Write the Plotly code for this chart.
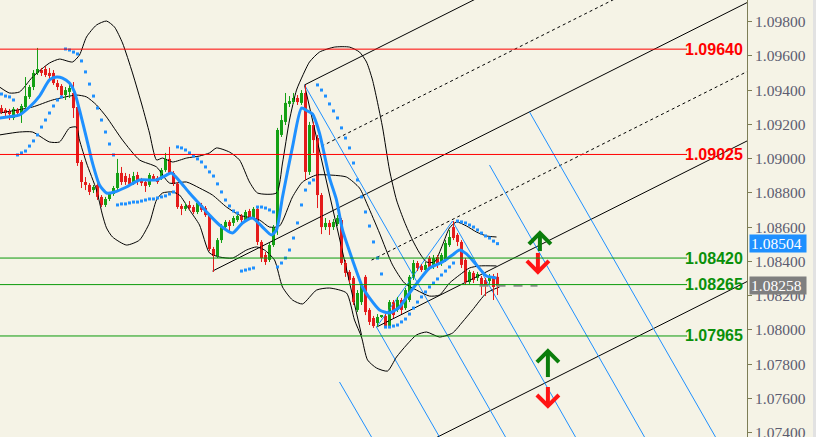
import plotly.graph_objects as go

# ---------------- data ----------------
opens = [
 1.09296, 1.09285, 1.09279, 1.09238, 1.09285, 1.09267, 1.09302, 1.09361, 1.09419, 1.09501,
 1.09518, 1.09524, 1.09501, 1.09501, 1.09442, 1.09425, 1.09372, 1.09390, 1.09384, 1.09302,
 1.08981, 1.08864, 1.08847, 1.08817, 1.08847, 1.08777, 1.08730, 1.08765, 1.08794, 1.08829,
 1.08917, 1.08899, 1.08888, 1.08858, 1.08905, 1.08876, 1.08864, 1.08847, 1.08899, 1.08888,
 1.08888, 1.08934, 1.08999, 1.08917, 1.08853, 1.08724, 1.08707, 1.08730, 1.08718, 1.08689,
 1.08730, 1.08712, 1.08671, 1.08473, 1.08432, 1.08525, 1.08601, 1.08631, 1.08625, 1.08642,
 1.08666, 1.08642, 1.08695, 1.08654, 1.08707, 1.08514, 1.08438, 1.08409, 1.08496, 1.08601,
 1.09139, 1.09215, 1.09320, 1.09331, 1.09355, 1.09326, 1.09384, 1.08923, 1.09197, 1.09121,
 1.08788, 1.08601, 1.08625, 1.08601, 1.08619, 1.08642, 1.08391, 1.08339, 1.08304, 1.08117,
 1.08163, 1.08310, 1.08117, 1.08070, 1.08041, 1.08076, 1.08082, 1.08023, 1.08163, 1.08117,
 1.08175, 1.08128, 1.08175, 1.08304, 1.08391, 1.08374, 1.08350, 1.08420, 1.08368, 1.08426,
 1.08391, 1.08409, 1.08496, 1.08601, 1.08555, 1.08514, 1.08409, 1.08280, 1.08333, 1.08304,
 1.08304, 1.08292, 1.08286, 1.08315, 1.08310]
highs = [
 1.09314, 1.09296, 1.09291, 1.09302, 1.09296, 1.09320, 1.09477, 1.09431, 1.09518, 1.09647,
 1.09530, 1.09542, 1.09530, 1.09518, 1.09460, 1.09436, 1.09419, 1.09448, 1.09448, 1.09314,
 1.08993, 1.08893, 1.08858, 1.08847, 1.08858, 1.08788, 1.08777, 1.08806, 1.08841, 1.08999,
 1.08952, 1.08917, 1.08911, 1.08923, 1.08923, 1.08888, 1.08876, 1.08917, 1.08911, 1.08899,
 1.08946, 1.09034, 1.09069, 1.08928, 1.08864, 1.08736, 1.08742, 1.08753, 1.08730, 1.08759,
 1.08742, 1.08724, 1.08683, 1.08485, 1.08537, 1.08619, 1.08642, 1.08642, 1.08666, 1.08677,
 1.08677, 1.08701, 1.08707, 1.08718, 1.08718, 1.08525, 1.08455, 1.08508, 1.08613, 1.09180,
 1.09256, 1.09384, 1.09366, 1.09384, 1.09372, 1.09401, 1.09431, 1.09215, 1.09215, 1.09139,
 1.08800, 1.08654, 1.08642, 1.08648, 1.08671, 1.08654, 1.08409, 1.08350, 1.08315, 1.08233,
 1.08274, 1.08321, 1.08128, 1.08082, 1.08093, 1.08087, 1.08093, 1.08175, 1.08175, 1.08193,
 1.08187, 1.08245, 1.08321, 1.08409, 1.08403, 1.08385, 1.08397, 1.08432, 1.08438, 1.08438,
 1.08450, 1.08525, 1.08584, 1.08636, 1.08566, 1.08525, 1.08420, 1.08350, 1.08344, 1.08339,
 1.08315, 1.08304, 1.08327, 1.08327, 1.08333]
lows = [
 1.09261, 1.09250, 1.09226, 1.09226, 1.09256, 1.09209, 1.09291, 1.09349, 1.09401, 1.09489,
 1.09483, 1.09477, 1.09460, 1.09431, 1.09401, 1.09361, 1.09343, 1.09355, 1.09238, 1.08958,
 1.08829, 1.08817, 1.08788, 1.08800, 1.08759, 1.08718, 1.08718, 1.08753, 1.08783, 1.08817,
 1.08847, 1.08847, 1.08841, 1.08847, 1.08847, 1.08841, 1.08806, 1.08835, 1.08870, 1.08853,
 1.08876, 1.08923, 1.08905, 1.08841, 1.08707, 1.08671, 1.08695, 1.08701, 1.08677, 1.08677,
 1.08689, 1.08660, 1.08461, 1.08339, 1.08420, 1.08508, 1.08590, 1.08566, 1.08607, 1.08631,
 1.08625, 1.08631, 1.08642, 1.08642, 1.08496, 1.08397, 1.08380, 1.08397, 1.08485, 1.08555,
 1.09127, 1.09197, 1.09302, 1.09320, 1.09314, 1.09314, 1.08876, 1.08905, 1.09034, 1.08712,
 1.08560, 1.08584, 1.08555, 1.08584, 1.08607, 1.08380, 1.08310, 1.08274, 1.08146, 1.08105,
 1.08146, 1.08087, 1.08029, 1.08012, 1.08017, 1.08070, 1.08012, 1.08012, 1.08070, 1.08105,
 1.08093, 1.08117, 1.08163, 1.08292, 1.08344, 1.08339, 1.08339, 1.08350, 1.08356, 1.08362,
 1.08374, 1.08397, 1.08485, 1.08525, 1.08490, 1.08362, 1.08263, 1.08269, 1.08274, 1.08286,
 1.08204, 1.08198, 1.08269, 1.08175, 1.08204]
closes = [
 1.09273, 1.09267, 1.09261, 1.09291, 1.09267, 1.09308, 1.09366, 1.09419, 1.09501, 1.09524,
 1.09501, 1.09489, 1.09483, 1.09442, 1.09419, 1.09372, 1.09401, 1.09413, 1.09296, 1.08975,
 1.08864, 1.08847, 1.08806, 1.08835, 1.08777, 1.08730, 1.08765, 1.08794, 1.08829, 1.08917,
 1.08864, 1.08864, 1.08853, 1.08899, 1.08870, 1.08858, 1.08841, 1.08905, 1.08882, 1.08864,
 1.08934, 1.08999, 1.08917, 1.08853, 1.08718, 1.08707, 1.08724, 1.08712, 1.08689, 1.08742,
 1.08701, 1.08671, 1.08473, 1.08432, 1.08525, 1.08607, 1.08631, 1.08607, 1.08654, 1.08666,
 1.08642, 1.08689, 1.08654, 1.08707, 1.08514, 1.08420, 1.08397, 1.08496, 1.08601, 1.09168,
 1.09226, 1.09326, 1.09337, 1.09355, 1.09331, 1.09384, 1.08923, 1.09197, 1.09109, 1.08788,
 1.08601, 1.08625, 1.08601, 1.08631, 1.08654, 1.08391, 1.08333, 1.08292, 1.08163, 1.08216,
 1.08263, 1.08105, 1.08047, 1.08023, 1.08076, 1.08082, 1.08023, 1.08163, 1.08087, 1.08175,
 1.08117, 1.08233, 1.08310, 1.08391, 1.08362, 1.08350, 1.08380, 1.08368, 1.08420, 1.08380,
 1.08438, 1.08508, 1.08543, 1.08537, 1.08514, 1.08380, 1.08280, 1.08339, 1.08292, 1.08327,
 1.08263, 1.08257, 1.08315, 1.08251, 1.08258]

# Parabolic SAR (one per bar)
sar = [
 1.09378, 1.09366, 1.09361, 1.09343, 1.09022, 1.09034, 1.09045, 1.09074, 1.09104, 1.09139,
 1.09185, 1.09226, 1.09267, 1.09308, 1.09343, 1.09361, 1.09641, 1.09635, 1.09623, 1.09612,
 1.09571, 1.09507, 1.09436, 1.09366, 1.09296, 1.09226, 1.09156, 1.09086, 1.09022, 1.08730,
 1.08736, 1.08736, 1.08742, 1.08747, 1.08747, 1.08753, 1.08759, 1.08765, 1.08765, 1.08771,
 1.08777, 1.08783, 1.08794, 1.08806, 1.09069, 1.09063, 1.09051, 1.09034, 1.09016, 1.08999,
 1.08981, 1.08952, 1.08923, 1.08899, 1.08853, 1.08806, 1.08759, 1.08724, 1.08695, 1.08683,
 1.08344, 1.08350, 1.08356, 1.08362, 1.08718, 1.08718, 1.08712, 1.08701, 1.08689, 1.08368,
 1.08391, 1.08420, 1.08467, 1.08537, 1.08625, 1.08730, 1.08817, 1.08858, 1.08876, 1.09431,
 1.09401, 1.09366, 1.09320, 1.09279, 1.09238, 1.09180, 1.09121, 1.09063, 1.08975, 1.08876,
 1.08777, 1.08689, 1.08607, 1.08514, 1.08420, 1.08327, 1.08017, 1.08017, 1.08023, 1.08029,
 1.08047, 1.08064, 1.08093, 1.08128, 1.08163, 1.08193, 1.08222, 1.08251, 1.08274, 1.08298,
 1.08321, 1.08344, 1.08368, 1.08391, 1.08636, 1.08631, 1.08625, 1.08613, 1.08601, 1.08584,
 1.08566, 1.08549, 1.08537, 1.08519, 1.08504]

# Moving average (blue)
ma_x = [-0.5, 4.5, 7, 9.5, 12, 13.75, 15.25, 17, 18.25, 19.5, 21.25, 22.75, 24.5, 26.25, 28.25,
        31.25, 34.5, 38.75, 41.25, 42.5, 44.5, 47, 49.5, 52, 54.5, 57.75, 60.25, 62.75, 65.25,
        67.5, 68.75, 70.25, 72.75, 75, 76.5, 77.75, 79.5, 82, 83.75, 85.25, 87.75, 90.25, 92,
        94.5, 97, 99.5, 102, 104.5, 107, 110.25, 112.75, 114.5, 116.25, 118.75, 121.25, 123.75]
ma_y = [1.09238, 1.09256, 1.09302, 1.09366, 1.09460, 1.09477, 1.09471, 1.09442, 1.09390, 1.09285,
        1.09121, 1.08975, 1.08847, 1.08800, 1.08806, 1.08835, 1.08876, 1.08876, 1.08905, 1.08917,
        1.08870, 1.08800, 1.08736, 1.08671, 1.08613, 1.08566, 1.08625, 1.08654, 1.08601, 1.08555,
        1.08584, 1.08777, 1.09069, 1.09296, 1.09279, 1.09261, 1.09150, 1.08888, 1.08759, 1.08584,
        1.08409, 1.08251, 1.08187, 1.08117, 1.08099, 1.08134, 1.08216, 1.08292, 1.08362, 1.08397,
        1.08438, 1.08467, 1.08444, 1.08380, 1.08315, 1.08304]

# Bollinger bands (black)
ub_x = [-0.5, 2, 4.5, 7.75, 12, 14.5, 17.75, 19.5, 21.25, 23.75, 26.25, 28.25, 30.25, 32.75, 35.25,
        37, 38.75, 40.25, 42.75, 46.25, 49.5, 52, 53.75, 57, 59.5, 62, 64, 68.75, 70.25, 72, 73.75,
        75.25, 77, 79.5, 83.25, 87, 89.5, 91.25, 92.75, 95.25, 97, 98.75, 100.75, 102.75, 104.5,
        106.25, 108.25, 110.25, 112, 113.75, 116.25, 118.75, 121.25, 123.75]
ub_y = [1.09419, 1.09384, 1.09390, 1.09477, 1.09559, 1.09582, 1.09565, 1.09606, 1.09711, 1.09781,
        1.09804, 1.09769, 1.09676, 1.09501, 1.09302, 1.09150, 1.08993, 1.09004, 1.08981, 1.09004,
        1.09016, 1.09034, 1.09063, 1.09039, 1.08993, 1.08864, 1.08800, 1.08800, 1.08975, 1.09226,
        1.09401, 1.09483, 1.09565, 1.09623, 1.09652, 1.09652, 1.09623, 1.09565, 1.09460, 1.09185,
        1.08934, 1.08759, 1.08631, 1.08525, 1.08450, 1.08397, 1.08397, 1.08496, 1.08596, 1.08631,
        1.08607, 1.08572, 1.08549, 1.08543]
mb_x = [-0.5, 7.75, 12.75, 18.75, 21.25, 23.75, 26.25, 30.25, 34.5, 38.75, 42, 46.25, 49.5, 52.75,
        56.25, 59.5, 64.5, 67, 69.5, 72.75, 75.25, 78.75, 82, 86.25, 89.5, 91.5, 94.5, 97.75,
        100.75, 103.75, 107, 109.5, 112, 114.5, 117, 119.5, 123.75]
mb_y = [1.09267, 1.09302, 1.09343, 1.09372, 1.09361, 1.09314, 1.09244, 1.09109, 1.08993, 1.08952,
        1.08858, 1.08864, 1.08829, 1.08788, 1.08718, 1.08671, 1.08642, 1.08601, 1.08607, 1.08777,
        1.08864, 1.08905, 1.08905, 1.08893, 1.08829, 1.08730, 1.08566, 1.08380, 1.08274, 1.08233,
        1.08198, 1.08204, 1.08274, 1.08321, 1.08362, 1.08374, 1.08374]
lb_x = [-0.5, 4.5, 7.75, 12, 14.5, 17, 18.75, 19.5, 21.25, 23.75, 25.25, 26.25, 27.75, 31.25, 34.5,
        37, 38.75, 40.25, 42.75, 44.5, 47, 49.5, 52, 54.5, 57.75, 61.25, 63.75, 65.75, 68.25, 70.25,
        72.75, 75.25, 78.75, 82, 86.25, 88.25, 90, 91.5, 93.75, 96.5, 98.75, 101.25, 103.75, 106.25,
        109.5, 112.75, 115.25, 117.75, 121.25, 124.5]
lb_y = [1.09139, 1.09156, 1.09156, 1.09098, 1.09098, 1.09180, 1.09185, 1.09109, 1.08975, 1.08817,
        1.08671, 1.08596, 1.08543, 1.08496, 1.08525, 1.08625, 1.08759, 1.08800, 1.08806, 1.08788,
        1.08701, 1.08613, 1.08450, 1.08426, 1.08420, 1.08467, 1.08485, 1.08467, 1.08409, 1.08251,
        1.08175, 1.08152, 1.08233, 1.08245, 1.08216, 1.08058, 1.07959, 1.07825, 1.07778, 1.07760,
        1.07842, 1.07912, 1.07971, 1.07988, 1.07959, 1.07982, 1.08047, 1.08117, 1.08216, 1.08251]

# Pitchfork / trend lines (black): start bar, start price, end bar, end price, dashed?
blk_x0 = [52.75, 75.75, 93.75, 105.0, 80.0, 92.5, 75.75]
blk_y0 = [1.08344, 1.09431, 1.08017, 1.07328, 1.09073, 1.08408, 1.09431]
blk_x1 = [186.4, 186.4, 186.4, 186.4, 186.4, 186.4, 90.0]
blk_y1 = [1.09912, 1.10729, 1.09104, 1.08283, 1.10321, 1.09509, 1.07971]
blk_dashed = [False, False, False, False, True, True, False]

# Blue thin lines
blu_x0 = [75.75, 93.75, 84.5, 112.75, 122.0, 132.0, 93.75]
blu_y0 = [1.09431, 1.08017, 1.07696, 1.08636, 1.08963, 1.09273, 1.08017]
blu_x1 = [126.0, 109.5, 92.5, 143.5, 160.75, 178.5, 112.75]
blu_y1 = [1.07375, 1.07375, 1.07375, 1.07375, 1.07375, 1.07375, 1.08636]

# Horizontal levels
red_levels = [1.09640, 1.09025]
green_levels = [1.08420, 1.08265, 1.07965]

# Arrows (bar position, tip price, direction)
arrow_x = [134.6, 134.1, 136.6, 136.6]
arrow_tip = [1.08566, 1.08339, 1.07877, 1.07556]
arrow_dir = [1, -1, 1, -1]
arrow_stem_px = [18, 19, 26, 19]

last_price = 1.08258
sar_last = 1.08504
last_line_x = [119.5, 134.0]

tick_vals = [1.074 + 0.002 * k for k in range(13)]

# ---------------- style ----------------
BG = "#F5F3E6"
UP = "#14A014"
DN = "#E41B1B"
BLUE = "#1E90FF"
RED = "#FF0000"
GREEN = "#0A9A0A"
GREEN_TXT = "#0A900A"
AXIS = "#7D7D55"
TICK_TXT = "#5C5C70"

W, H = 816, 437
PLOT_W = 747
X_RANGE = [-0.375, 186.375]
Y_RANGE = [1.07375, 1.09927]
PX_X = (X_RANGE[1] - X_RANGE[0]) / PLOT_W
PX_Y = (Y_RANGE[1] - Y_RANGE[0]) / H

fig = go.Figure()

def seg_trace(x0s, y0s, x1s, y1s, color, width=1, dash="solid"):
    xs, ys = [], []
    for a, b, c, d in zip(x0s, y0s, x1s, y1s):
        xs += [a, c, None]
        ys += [b, d, None]
    fig.add_trace(go.Scatter(x=xs, y=ys, mode="lines", hoverinfo="skip",
                             line=dict(color=color, width=width, dash=dash)))

# black drawing lines
sol = [k for k in range(len(blk_x0)) if not blk_dashed[k]]
das = [k for k in range(len(blk_x0)) if blk_dashed[k]]
seg_trace([blk_x0[k] for k in sol], [blk_y0[k] for k in sol],
          [blk_x1[k] for k in sol], [blk_y1[k] for k in sol], "#000000")
seg_trace([blk_x0[k] for k in das], [blk_y0[k] for k in das],
          [blk_x1[k] for k in das], [blk_y1[k] for k in das], "#000000", dash="3px,3px")
# blue thin lines
seg_trace(blu_x0, blu_y0, blu_x1, blu_y1, BLUE)

# Bollinger bands
for bx, by in [(ub_x, ub_y), (mb_x, mb_y), (lb_x, lb_y)]:
    fig.add_trace(go.Scatter(x=bx, y=by, mode="lines", hoverinfo="skip",
                             line=dict(color="#000000", width=1, shape="spline", smoothing=0.6)))

# candles: wicks
n = len(opens)
for col, sel in [(UP, lambda o, c: c >= o), (DN, lambda o, c: c < o)]:
    xs, ys = [], []
    for i in range(n):
        if sel(opens[i], closes[i]):
            xs += [i, i, None]
            ys += [lows[i], highs[i], None]
    fig.add_trace(go.Scatter(x=xs, y=ys, mode="lines", hoverinfo="skip",
                             line=dict(color=col, width=1)))
# candles: bodies
bases = [min(o, c) for o, c in zip(opens, closes)]
heights = [max(abs(c - o), PX_Y) for o, c in zip(opens, closes)]
colors = [UP if c >= o else DN for o, c in zip(opens, closes)]
fig.add_trace(go.Bar(x=list(range(n)), y=heights, base=bases, width=0.75,
                     marker=dict(color=colors, line=dict(width=0)), hoverinfo="skip"))

# MA
fig.add_trace(go.Scatter(x=ma_x, y=ma_y, mode="lines", hoverinfo="skip",
                         line=dict(color=BLUE, width=3, shape="spline", smoothing=0.6)))
# SAR
fig.add_trace(go.Scatter(x=list(range(n)), y=sar, mode="markers", hoverinfo="skip",
                         marker=dict(symbol="square", size=3, color=BLUE, line=dict(width=0))))

# last price dashed stub
fig.add_trace(go.Scatter(x=last_line_x, y=[last_price, last_price], mode="lines", hoverinfo="skip",
                         line=dict(color="#8E8E8E", width=2, dash="9px,8px")))

# arrows
for ax_, tip, d, stem in zip(arrow_x, arrow_tip, arrow_dir, arrow_stem_px):
    col = "#0B7D0B" if d > 0 else "#FF1414"
    hw = 11 * PX_X
    ah = 11 * PX_Y * d
    xs = [ax_, ax_, None, ax_ - hw, ax_, ax_ + hw]
    ys = [tip, tip - d * stem * PX_Y, None, tip - ah, tip, tip - ah]
    fig.add_trace(go.Scatter(x=xs, y=ys, mode="lines", hoverinfo="skip",
                             line=dict(color=col, width=4)))

shapes = []
annotations = []
line_end = 687 / PLOT_W
for lv in red_levels:
    shapes.append(dict(type="line", xref="paper", yref="y", x0=0, x1=line_end, y0=lv, y1=lv,
                       line=dict(color=RED, width=1)))
    annotations.append(dict(xref="paper", yref="y", x=745 / PLOT_W, y=lv, xanchor="right",
                            yanchor="middle", text=f"{lv:.5f}", showarrow=False,
                            font=dict(family="Liberation Sans", size=16, color=RED, weight="bold")))
for lv in green_levels:
    shapes.append(dict(type="line", xref="paper", yref="y", x0=0, x1=line_end, y0=lv, y1=lv,
                       line=dict(color=GREEN, width=1)))
    annotations.append(dict(xref="paper", yref="y", x=745 / PLOT_W, y=lv, xanchor="right",
                            yanchor="middle", text=f"{lv:.5f}", showarrow=False,
                            font=dict(family="Liberation Sans", size=16, color=GREEN_TXT, weight="bold")))

# right-side price boxes
for val, bgc in [(sar_last, BLUE), (last_price, "#7F7F7F")]:
    annotations.append(dict(xref="paper", yref="y", x=749 / PLOT_W, y=val, xanchor="left",
                            yanchor="middle", text=f"{val:.5f}", showarrow=False, bgcolor=bgc,
                            width=54, height=15, align="left", borderpad=1,
                            font=dict(family="Liberation Serif", size=15.5, color="#FFFFFF")))

shapes.append(dict(type="rect", xref="paper", yref="paper", x0=813 / PLOT_W, x1=816 / PLOT_W,
                   y0=0, y1=1, fillcolor="#E2E2E2", line=dict(width=0), layer="above"))

fig.update_layout(
    width=W, height=H, margin=dict(l=0, r=W - PLOT_W, t=0, b=0, autoexpand=False),
    paper_bgcolor=BG, plot_bgcolor=BG, showlegend=False, barmode="overlay",
    shapes=shapes, annotations=annotations,
    xaxis=dict(range=X_RANGE, showgrid=False, zeroline=False, showticklabels=False,
               ticks="", showline=False, fixedrange=True, automargin=False),
    yaxis=dict(range=Y_RANGE, side="right", showgrid=False, zeroline=False,
               tickvals=tick_vals, ticktext=[f"{v:.5f}" for v in tick_vals],
               ticks="outside", ticklen=4, tickcolor=AXIS, showline=True, linecolor=AXIS,
               linewidth=1, tickfont=dict(family="Liberation Serif", size=15.5, color=TICK_TXT),
               ticklabeloverflow="allow", automargin=False, fixedrange=True),
)

fig.write_html("out.html", config={"displayModeBar": False},
               post_script="document.body.style.margin='0';document.body.style.background='" + BG + "';")
